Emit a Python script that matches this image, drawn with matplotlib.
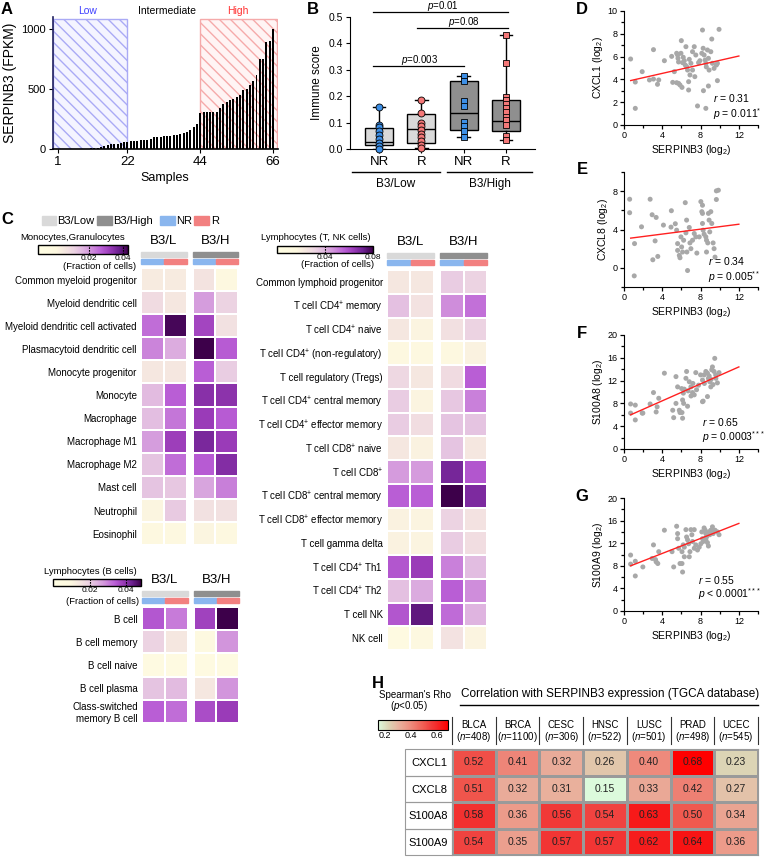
import numpy as np
import matplotlib
matplotlib.use('Agg')
import matplotlib.pyplot as plt
from matplotlib.colors import LinearSegmentedColormap, Normalize
from matplotlib.patches import Rectangle
from matplotlib.lines import Line2D
from matplotlib.cm import ScalarMappable
from matplotlib.ticker import MultipleLocator

plt.rcParams['font.family'] = ['Liberation Sans', 'DejaVu Sans']
plt.rcParams['mathtext.fontset'] = 'custom'
plt.rcParams['mathtext.rm'] = 'Liberation Sans'
plt.rcParams['mathtext.it'] = 'Liberation Sans:italic'
plt.rcParams['mathtext.bf'] = 'Liberation Sans:bold'
plt.rcParams['hatch.linewidth'] = 1.0

# ---------------- data ----------------
# A
serpinb3_fpkm = [0, 0, 0, 0, 1, 2, 2, 3, 3, 4, 5, 6, 10, 15, 25, 30, 38, 42, 45, 48, 55, 60,
                 65, 68, 70, 72, 72, 75, 80, 100, 100, 102, 105, 108, 110, 115, 120, 125, 130, 140, 160, 185, 210,
                 300, 305, 306, 307, 308, 312, 340, 375, 395, 410, 420, 433, 447, 495, 500, 536, 564, 620, 750, 750,
                 889, 897, 1000]
a_xticks = [1, 22, 44, 66]

# B
b_labels = ['NR', 'R', 'NR', 'R']
nr_low = [0.16, 0.092, 0.082, 0.069, 0.054, 0.038, 0.023, 0.01, 0.0]
r_low = [0.186, 0.138, 0.10, 0.088, 0.073, 0.057, 0.044, 0.029, 0.016, 0.004]
nr_high = [0.276, 0.258, 0.18, 0.163, 0.104, 0.088, 0.069, 0.045]
r_high = [0.433, 0.327, 0.198, 0.186, 0.171, 0.155, 0.139, 0.123, 0.108, 0.092, 0.048, 0.033]
b_q1 = [0.014, 0.023, 0.073, 0.067]
b_med = [0.025, 0.075, 0.136, 0.106]
b_q3 = [0.079, 0.132, 0.258, 0.186]

# C
mono_labels = ['Common myeloid progenitor', 'Myeloid dendritic cell', 'Myeloid dendritic cell activated',
               'Plasmacytoid dendritic cell', 'Monocyte progenitor', 'Monocyte', 'Macrophage',
               'Macrophage M1', 'Macrophage M2', 'Mast cell', 'Neutrophil', 'Eosinophil']
# columns: B3/L NR, B3/L R, B3/H NR, B3/H R
mono_values = [[0.0048, 0.0048, 0.0070, 0.0006],
               [0.0091, 0.0059, 0.0197, 0.0112],
               [0.0255, 0.0419, 0.0308, 0.0075],
               [0.0229, 0.0176, 0.0430, 0.0276],
               [0.0059, 0.0059, 0.0271, 0.0123],
               [0.0154, 0.0271, 0.0345, 0.0340],
               [0.0149, 0.0245, 0.0324, 0.0276],
               [0.0197, 0.0319, 0.0361, 0.0324],
               [0.0139, 0.0255, 0.0276, 0.0351],
               [0.0139, 0.0133, 0.0186, 0.0234],
               [0.0017, 0.0128, 0.0075, 0.0075],
               [0.0006, 0.0000, 0.0017, 0.0000]]
bcell_labels = ['B cell', 'B cell memory', 'B cell naive', 'B cell plasma', 'Class-switched\nmemory B cell']
bcell_values = [[0.0346, 0.0307, 0.0374, 0.0480],
                [0.0192, 0.0144, 0.0086, 0.0278],
                [0.0072, 0.0072, 0.0072, 0.0072],
                [0.0216, 0.0230, 0.0144, 0.0278],
                [0.0336, 0.0322, 0.0360, 0.0384]]
tnk_labels = ['Common lymphoid progenitor', 'T cell CD4$^{+}$ memory', 'T cell CD4$^{+}$ naive',
              'T cell CD4$^{+}$ (non-regulatory)', 'T cell regulatory (Tregs)',
              'T cell CD4$^{+}$ central memory', 'T cell CD4$^{+}$ effector memory',
              'T cell CD8$^{+}$ naive', 'T cell CD8$^{+}$', 'T cell CD8$^{+}$ central memory',
              'T cell CD8$^{+}$ effector memory', 'T cell gamma delta', 'T cell CD4$^{+}$ Th1',
              'T cell CD4$^{+}$ Th2', 'T cell NK', 'NK cell']
tnk_values = [[0.024, 0.024, 0.034, 0.032],
              [0.037, 0.026, 0.048, 0.053],
              [0.024, 0.018, 0.027, 0.032],
              [0.016, 0.016, 0.016, 0.019],
              [0.030, 0.024, 0.029, 0.056],
              [0.034, 0.018, 0.035, 0.050],
              [0.034, 0.028, 0.036, 0.036],
              [0.024, 0.019, 0.036, 0.024],
              [0.045, 0.045, 0.070, 0.058],
              [0.056, 0.056, 0.080, 0.069],
              [0.019, 0.018, 0.032, 0.026],
              [0.019, 0.018, 0.034, 0.028],
              [0.058, 0.064, 0.050, 0.038],
              [0.037, 0.042, 0.056, 0.048],
              [0.058, 0.074, 0.054, 0.040],
              [0.012, 0.016, 0.026, 0.018]]

# D-G
D_x = [0.69, 1.18, 1.18, 1.9, 3.08, 3.08, 2.66, 3.63, 3.5, 4.22, 4.98, 5.5, 5.6, 5.64, 5.7, 5.26, 5.09, 5.5, 5.7,
       5.85, 5.99, 6.12, 6.06, 6.19, 6.3, 6.47, 6.4, 6.54, 6.64, 6.75, 6.82, 6.99, 6.89, 7.16, 7.34, 7.4, 6.75,
       7.5, 7.68, 7.79, 8.2, 8.13, 8.27, 8.37, 8.48, 8.55, 8.3, 8.55, 8.72, 8.82, 8.89, 8.82, 9.07, 9.17, 9.24,
       9.41, 9.65, 9.76, 9.76, 9.93, 8.6, 7.93, 5.95, 7.16]
D_y = [5.79, 3.77, 1.46, 4.68, 6.61, 4.03, 3.95, 3.95, 3.57, 5.64, 6.02, 6.29, 6.14, 5.85, 5.53, 4.68, 3.74, 3.71,
       3.65, 3.51, 7.4, 5.47, 3.3, 5.94, 5.64, 6.87, 5.26, 5.12, 4.82, 3.8, 5.76, 5.41, 4.39, 4.82, 6.87, 4.24,
       3.07, 6.14, 1.67, 5.47, 8.33, 6.29, 6.73, 6.14, 5.7, 5.41, 3.01, 1.46, 6.58, 5.85, 4.82, 3.42, 6.43, 7.54,
       5.41, 4.97, 5.26, 5.41, 3.89, 8.39, 5.1, 5.64, 6.29, 6.43]
E_x = [0.59, 1.1, 1.07, 1.83, 2.94, 3.36, 3.01, 3.53, 3.25, 4.12, 4.95, 4.91, 5.36, 5.5, 5.6, 5.6, 5.78, 5.85,
       5.95, 6.02, 6.12, 6.23, 6.4, 6.47, 6.54, 6.57, 6.64, 6.82, 6.89, 6.99, 7.16, 7.34, 7.5, 7.61, 7.86, 8.03,
       8.13, 8.2, 8.27, 8.37, 8.55, 8.62, 8.62, 8.75, 8.89, 8.96, 9.07, 9.17, 9.31, 9.41, 9.51, 8.2, 8.82, 0.59,
       2.73, 8.2, 9.65, 9.86, 9.65]
E_y = [5.75, 2.53, -0.84, 4.28, 5.54, 5.26, 0.84, 1.19, 2.81, 4.46, 5.96, 4.25, 4.6, 3.93, 2.53, 1.82, 1.3, 1.05,
       3.23, 2.18, 1.65, 2.88, 6.8, 3.65, 4.98, 1.65, -0.28, 4.21, 2.6, 2.0, 2.88, 3.58, 3.23, 1.54, 3.23, 6.91,
       5.86, 4.63, 3.93, 3.51, 3.23, 2.88, 1.65, 2.6, 4.98, 3.75, 5.86, 4.63, 2.6, 2.0, 1.12, 5.68, 5.68, 7.16,
       7.16, 6.53, 8.03, 8.1, 7.13]
F_x = [9.48, 9.24, 4.22, 5.43, 6.54, 7.5, 5.6, 6.02, 6.3, 6.47, 6.82, 6.99, 7.16, 7.34, 7.58, 7.79, 8.2, 8.37,
       8.55, 8.72, 8.82, 8.96, 9.07, 8.72, 8.2, 9.58, 9.76, 9.93, 9.17, 9.41, 3.08, 3.63, 2.73, 1.9, 1.18, 0.69,
       0.69, 6.12, 5.43, 5.78, 1.18, 1.97, 3.36, 3.46, 5.09, 5.19, 5.85, 6.06, 6.12, 6.23, 6.64, 8.27,
       8.9, 9.1, 8.4, 9.6, 7.2, 6.7, 8.0, 9.3, 6.2, 7.0]
F_y = [15.9, 14.4, 13.3, 12.7, 13.6, 13.4, 10.9, 10.6, 10.5, 12.4, 11.8, 10.9, 9.9, 9.5, 10.4, 11.2, 12.1, 13.0,
       13.6, 13.3, 12.4, 11.8, 10.9, 9.2, 8.3, 13.0, 11.6, 13.4, 13.9, 13.6, 9.9, 8.9, 7.9, 6.3, 7.7, 7.9, 6.3,
       8.6, 8.0, 6.8, 5.1, 6.3, 6.5, 7.4, 6.8, 5.5, 6.4, 6.4, 5.4, 8.0, 7.5, 8.4,
       12.8, 12.2, 11.5, 12.4, 11.5, 10.2, 13.0, 11.3, 9.8, 9.3]
G_x = [0.69, 0.69, 1.18, 1.18, 1.97, 3.08, 2.94, 3.29, 3.36, 3.53, 3.63, 4.22, 5.02, 5.19, 5.5, 5.6, 5.6, 5.71,
       5.85, 6.06, 6.12, 6.06, 6.19, 6.3, 6.3, 6.47, 6.54, 6.64, 6.75, 6.82, 6.89, 6.99, 7.09, 7.16, 7.34, 7.34,
       7.5, 7.68, 7.86, 8.13, 8.2, 8.27, 8.37, 8.48, 8.55, 8.62, 8.72, 8.82, 8.89, 8.96, 9.07, 9.24, 9.31, 9.51,
       9.76, 9.93, 8.55, 8.03]
G_y = [9.9, 8.3, 8.8, 6.2, 7.8, 11.7, 9.3, 9.1, 8.7, 8.4, 10.5, 14.3, 10.5, 7.8, 15.0, 13.7, 12.8, 11.1, 8.4, 8.4,
       6.9, 10.5, 11.7, 9.6, 11.3, 14.4, 13.1, 12.6, 11.9, 9.6, 10.5, 14.4, 13.5, 12.3, 14.4, 11.1, 11.7, 10.8,
       11.3, 14.0, 12.8, 12.3, 14.7, 14.3, 13.7, 13.1, 12.1, 11.5, 14.0, 13.5, 14.3, 14.9, 13.7, 14.3, 14.0, 13.5,
       12.6, 11.9]
D_fit = ([0.7, 12.0], [3.9, 6.05])
E_fit = ([0.7, 12.0], [3.1, 4.55])
F_fit = ([0.7, 12.0], [6.0, 14.4])
G_fit = ([0.7, 12.0], [8.0, 15.5])

# H
tumors = ['BLCA', 'BRCA', 'CESC', 'HNSC', 'LUSC', 'PRAD', 'UCEC']
tumor_n = [408, 1100, 306, 522, 501, 498, 545]
genes = ['CXCL1', 'CXCL8', 'S100A8', 'S100A9']
rho = [[0.52, 0.41, 0.32, 0.26, 0.40, 0.68, 0.23],
       [0.51, 0.32, 0.31, 0.15, 0.33, 0.42, 0.27],
       [0.58, 0.36, 0.56, 0.54, 0.63, 0.50, 0.34],
       [0.54, 0.35, 0.57, 0.57, 0.62, 0.64, 0.36]]

# ---------------- helpers ----------------
W, H = 768, 859
fig = plt.figure(figsize=(W / 100, H / 100), dpi=100)


def axpx(x0, y0, x1, y1):
    return fig.add_axes([x0 / W, 1 - y1 / H, (x1 - x0) / W, (y1 - y0) / H])


def txt(x, y, s, **kw):
    kw.setdefault('ha', 'center')
    kw.setdefault('va', 'center')
    fig.text(x / W, 1 - y / H, s, **kw)


def line(xs, ys, **kw):
    fig.add_artist(Line2D([x / W for x in xs], [1 - y / H for y in ys], transform=fig.transFigure, **kw))


def rect(x0, y0, x1, y1, **kw):
    fig.add_artist(Rectangle((x0 / W, 1 - y1 / H), (x1 - x0) / W, (y1 - y0) / H,
                             transform=fig.transFigure, **kw))


C_LOW, C_HIGH, C_NR, C_R = '#d9d9d9', '#8f8f8f', '#8ab6ee', '#f28080'

# ---------------- A ----------------
axA = axpx(53, 17, 278, 149)
xs = np.arange(1, len(serpinb3_fpkm) + 1)
axA.add_patch(Rectangle((-0.5, 0), 22.5, 1080, facecolor='#f4f4ff', edgecolor='#aaaaf5',
                        hatch='\\\\\\', lw=1.0, zorder=1))
axA.add_patch(Rectangle((44, 0), 23.2, 1080, facecolor='#fff4f4', edgecolor='#f5aaaa',
                        hatch='\\\\\\', lw=1.0, zorder=1))
axA.bar(xs, serpinb3_fpkm, width=0.6, color='black', zorder=3)
axA.set_xlim(-0.5, 67.5)
axA.set_ylim(0, 1100)
axA.set_xticks(a_xticks)
axA.set_yticks([0, 500, 1000])
axA.tick_params(axis='x', labelsize=9.5, length=3, pad=2)
axA.tick_params(axis='y', labelsize=8, length=3, pad=2)
for s in ['top', 'right']:
    axA.spines[s].set_visible(False)
axA.spines['left'].set_color('#202060')
axA.spines['left'].set_linewidth(1.2)
axA.spines['bottom'].set_linewidth(1.2)
axA.set_ylabel('SERPINB3 (FPKM)', fontsize=10, labelpad=3)
txt(165, 178, 'Samples', fontsize=9)
txt(88, 11, 'Low', fontsize=7.5, color='#4040ff')
txt(167, 11, 'Intermediate', fontsize=7.5)
txt(238, 11, 'High', fontsize=7.5, color='#ff3030')

# ---------------- B ----------------
axB = axpx(350, 17, 535, 149)
groups = [nr_low, r_low, nr_high, r_high]
stats = []
for i, g in enumerate(groups):
    stats.append(dict(med=b_med[i], q1=b_q1[i], q3=b_q3[i], whislo=min(g), whishi=max(g), fliers=[]))
pos = [1, 2, 3, 4]
axB.bxp(stats, positions=pos, widths=0.66, patch_artist=True, showfliers=False,
        boxprops=dict(edgecolor='black', linewidth=1.0),
        medianprops=dict(color='black', linewidth=1.0),
        whiskerprops=dict(color='black', linewidth=1.0),
        capprops=dict(color='black', linewidth=1.0), capwidths=0.3)
box_colors = [C_LOW, C_LOW, C_HIGH, C_HIGH]
for patch, c in zip(axB.patches, box_colors):
    patch.set_facecolor(c)
pt_colors = ['#3d8fe6', '#f47878', '#3d8fe6', '#f47878']
pt_markers = ['o', 'o', 's', 's']
for i, g in enumerate(groups):
    axB.plot([pos[i]] * len(g), g, ls='none', marker=pt_markers[i], ms=5, mfc=pt_colors[i],
             mec='black', mew=0.6, zorder=4, clip_on=False)
axB.set_xlim(0.31, 4.69)
axB.set_ylim(0, 0.5)
axB.set_yticks([0, 0.1, 0.2, 0.3, 0.4, 0.5])
axB.set_yticklabels(['0.0', '0.1', '0.2', '0.3', '0.4', '0.5'])
axB.set_xticks(pos)
axB.set_xticklabels(b_labels)
axB.tick_params(axis='y', labelsize=7.5, length=3, pad=2)
axB.tick_params(axis='x', labelsize=9.5, length=3, pad=2)
for s in ['top', 'right']:
    axB.spines[s].set_visible(False)
axB.set_ylabel('Immune score', fontsize=8.5, labelpad=4)
for (x0, x1, yv, lab, lx) in [(0.86, 4.05, 0.519, '$\\it{p}$=0.01', 2.5),
                             (1.9, 4.05, 0.458, '$\\it{p}$=0.08', 3.0),
                             (0.86, 3.0, 0.314, '$\\it{p}$=0.003', 1.95)]:
    axB.plot([x0, x1], [yv, yv], color='black', lw=0.9, clip_on=False)
    axB.text(lx, yv + 0.022, lab, ha='center', va='center', fontsize=7, clip_on=False)
line([352, 440], [172, 172], color='black', lw=1)
line([447, 532], [172, 172], color='black', lw=1)
txt(396, 184, 'B3/Low', fontsize=8.5)
txt(490, 184, 'B3/High', fontsize=8.5)

# ---------------- C ----------------
cmap = LinearSegmentedColormap.from_list('cib', [
    (0.0, '#fffee3'), (0.2, '#fdf8e0'), (0.3, '#f5e7e0'), (0.4, '#ecd3e2'), (0.5, '#dfb5e0'),
    (0.6, '#cf8ddb'), (0.7, '#ba5fd6'), (0.8, '#9a3bb8'), (0.9, '#6c2090'), (1.0, '#3d004a')])

# legend
rect(42, 216, 56, 225, color=C_LOW)
txt(57, 220.5, 'B3/Low', fontsize=8, ha='left')
rect(97, 216, 112, 225, color=C_HIGH)
txt(113, 220.5, 'B3/High', fontsize=8, ha='left')
rect(160, 216, 175, 225, color=C_NR)
txt(176, 220.5, 'NR', fontsize=8, ha='left')
rect(194, 216, 209, 225, color=C_R)
txt(211, 220.5, 'R', fontsize=8, ha='left')


def heat_block(x0, x1, top, rowh, vals, norm, labels=None):
    n = len(vals)
    ax = axpx(x0, top, x1, top + n * rowh)
    ax.pcolormesh(np.array(vals), cmap=cmap, norm=norm, edgecolors='white', linewidth=1.3)
    ax.set_xlim(0, 2)
    ax.set_ylim(n, 0)
    for s in ax.spines.values():
        s.set_visible(False)
    ax.set_xticks([])
    if labels is not None:
        ax.set_yticks(np.arange(n) + 0.5)
        ax.set_yticklabels(labels, fontsize=7)
        ax.tick_params(axis='y', length=0, pad=3)
    else:
        ax.set_yticks([])
    return ax


def headers(x0, x1, ytop, title, gray):
    rect(x0, ytop, x1, ytop + 5, color=gray)
    mid = (x0 + x1) / 2
    rect(x0, ytop + 7, mid - 0.5, ytop + 12, color=C_NR)
    rect(mid + 0.5, ytop + 7, x1, ytop + 12, color=C_R)
    txt(mid, ytop - 11, title, fontsize=9.5)


def cbar(x0, y0, x1, y1, norm, ticks, ticklabels):
    cax = axpx(x0, y0, x1, y1)
    cb = fig.colorbar(ScalarMappable(norm=norm, cmap=cmap), cax=cax, orientation='horizontal')
    cb.set_ticks(ticks)
    cb.set_ticklabels(ticklabels)
    cax.tick_params(labelsize=6, length=0, pad=1)
    cb.outline.set_linewidth(1.0)
    for t in ticks:
        cax.axvline(t, color='black', lw=0.8, ls=(0, (1.5, 1)))
    return cb


# Monocytes block
norm_mono = Normalize(-0.01, 0.043)
heat_block(141, 186.5, 268, 23.1, [r[:2] for r in mono_values], norm_mono, mono_labels)
heat_block(192.5, 238, 268, 23.1, [r[2:] for r in mono_values], norm_mono)
headers(141, 186.5, 252, 'B3/L', C_LOW)
headers(192.5, 238, 252, 'B3/H', C_HIGH)
txt(73, 237, 'Monocytes,Granulocytes', fontsize=6.8)
cbar(38, 245, 128, 254, norm_mono, [0.02, 0.04], ['0.02', '0.04'])
txt(100, 267, '(Fraction of cells)', fontsize=6.8)

# B cell block
norm_b = Normalize(0, 0.048)
heat_block(142, 187.5, 607, 23.2, [r[:2] for r in bcell_values], norm_b, bcell_labels)
heat_block(193.5, 239, 607, 23.2, [r[2:] for r in bcell_values], norm_b)
headers(142, 187.5, 591, 'B3/L', C_LOW)
headers(193.5, 239, 591, 'B3/H', C_HIGH)
txt(90, 572, 'Lymphocytes (B cells)', fontsize=6.8)
cbar(53, 579, 141, 586, norm_b, [0.02, 0.04], ['0.02', '0.04'])
txt(103, 601, '(Fraction of cells)', fontsize=6.8)

# T/NK block
norm_t = Normalize(0, 0.08)
heat_block(387, 433.5, 270, 23.75, [r[:2] for r in tnk_values], norm_t, tnk_labels)
heat_block(440, 487, 270, 23.75, [r[2:] for r in tnk_values], norm_t)
headers(387, 433.5, 253, 'B3/L', C_LOW)
headers(440, 487, 253, 'B3/H', C_HIGH)
txt(316, 237, 'Lymphocytes (T, NK cells)', fontsize=6.8)
cbar(277, 246, 373, 253, norm_t, [0.04, 0.08], ['0.04', '0.08'])
txt(338, 265, '(Fraction of cells)', fontsize=6.8)

# ---------------- D-G ----------------
scat = [
    ('D', 11, 125, (0, 10), [0, 2, 4, 6, 8, 10], 1, D_x, D_y, D_fit, 'CXCL1 (log$_{2}$)',
     '$\\it{r}$ = 0.31', '$\\it{p}$ = 0.011$^{*}$', 713, 98, 114),
    ('E', 172, 287, (-2, 10), [0, 4, 8], 2, E_x, E_y, E_fit, 'CXCL8 (log$_{2}$)',
     '$\\it{r}$ = 0.34', '$\\it{p}$ = 0.005$^{**}$', 708, 261, 277),
    ('F', 335, 449, (0, 20), [0, 4, 8, 12, 16, 20], 2, F_x, F_y, F_fit, 'S100A8 (log$_{2}$)',
     '$\\it{r}$ = 0.65', '$\\it{p}$ = 0.0003$^{***}$', 702, 422, 437),
    ('G', 498, 611, (0, 20), [0, 4, 8, 12, 16, 20], 2, G_x, G_y, G_fit, 'S100A9 (log$_{2}$)',
     '$\\it{r}$ = 0.55', '$\\it{p}$ < 0.0001$^{***}$', 698, 580, 594),
]
for (lab, y0, y1, ylim, yt, ymin, sx, sy, fit, ylab, rtxt, ptxt, tx, ry, py) in scat:
    ax = axpx(624, y0, 758, y1)
    ax.scatter(sx, sy, s=13, color='#a8a8a8', edgecolors='none', zorder=2)
    ax.plot(fit[0], fit[1], color='#ff2020', lw=1.0, zorder=3)
    ax.set_xlim(0, 14)
    ax.set_ylim(*ylim)
    ax.set_xticks([0, 4, 8, 12])
    ax.xaxis.set_minor_locator(MultipleLocator(2))
    ax.set_yticks(yt)
    ax.yaxis.set_minor_locator(MultipleLocator(ymin))
    ax.tick_params(which='both', labelsize=6.5, length=3, pad=1.5, width=0.9)
    ax.tick_params(which='minor', length=2)
    for s in ['top', 'right']:
        ax.spines[s].set_visible(False)
    ax.set_ylabel(ylab, fontsize=7.5, labelpad=2)
    ax.set_xlabel('SERPINB3 (log$_{2}$)', fontsize=7.5, labelpad=2)
    txt(tx, ry, rtxt, fontsize=7.5, ha='left')
    txt(tx, py, ptxt, fontsize=7.5, ha='left')
    txt(582, y0 - 2, lab, fontsize=12, fontweight='bold')

# ---------------- H ----------------
cmap_h = LinearSegmentedColormap.from_list('rho', [
    (0.0, '#dcfadc'), (0.151, '#dcd4b4'), (0.283, '#e8b4a0'), (0.472, '#ee8a7c'),
    (0.66, '#f05a50'), (0.755, '#f03e3c'), (0.849, '#f42828'), (0.925, '#f81414'), (1.0, '#ff0000')])
norm_h = Normalize(0.15, 0.68)
axH = axpx(452, 749, 758, 855)
axH.pcolormesh(np.array(rho), cmap=cmap_h, norm=norm_h, edgecolors='#9a9a9a', linewidth=0.8)
axH.set_xlim(0, 7)
axH.set_ylim(4, 0)
for i in range(4):
    for j in range(7):
        axH.text(j + 0.5, i + 0.5, f'{rho[i][j]:.2f}', ha='center', va='center', fontsize=7.5, color='#222222')
axH.set_xticks([])
axH.set_yticks(np.arange(4) + 0.5)
axH.set_yticklabels(genes, fontsize=8)
axH.tick_params(axis='y', length=0, pad=3)
for s in axH.spines.values():
    s.set_color('#9a9a9a')
    s.set_linewidth(0.8)
rowh = (855 - 749) / 4
for i in range(4):
    rect(405, 749 + i * rowh, 452, 749 + (i + 1) * rowh, fill=False, edgecolor='#9a9a9a', lw=0.8)
colw = (758 - 452) / 7
for j in range(8):
    line([452 + j * colw] * 2, [717, 744], color='#333333', lw=0.8)
for j in range(7):
    cx = 452 + (j + 0.5) * colw
    txt(cx, 725, tumors[j], fontsize=7)
    txt(cx, 737, f'($\\it{{n}}$={tumor_n[j]})', fontsize=7)
txt(610, 694, 'Correlation with SERPINB3 expression (TGCA database)', fontsize=8.5)
line([460, 758], [705, 705], color='black', lw=1)
txt(415, 695, "Spearman's Rho", fontsize=7)
txt(409, 706, '($\\it{p}$<0.05)', fontsize=7)
caxh = axpx(378, 720, 448, 730)
cbh = fig.colorbar(ScalarMappable(norm=norm_h, cmap=cmap_h), cax=caxh, orientation='horizontal')
cbh.set_ticks([0.2, 0.4, 0.6])
cbh.set_ticklabels(['0.2', '0.4', '0.6'])
caxh.tick_params(labelsize=6.5, length=0, pad=1)
cbh.outline.set_linewidth(0.8)

# panel letters
txt(7, 9, 'A', fontsize=12, fontweight='bold')
txt(313, 10, 'B', fontsize=12, fontweight='bold')
txt(7, 220, 'C', fontsize=12, fontweight='bold')
txt(378, 684, 'H', fontsize=12, fontweight='bold')

fig.savefig('out.png', dpi=100)
